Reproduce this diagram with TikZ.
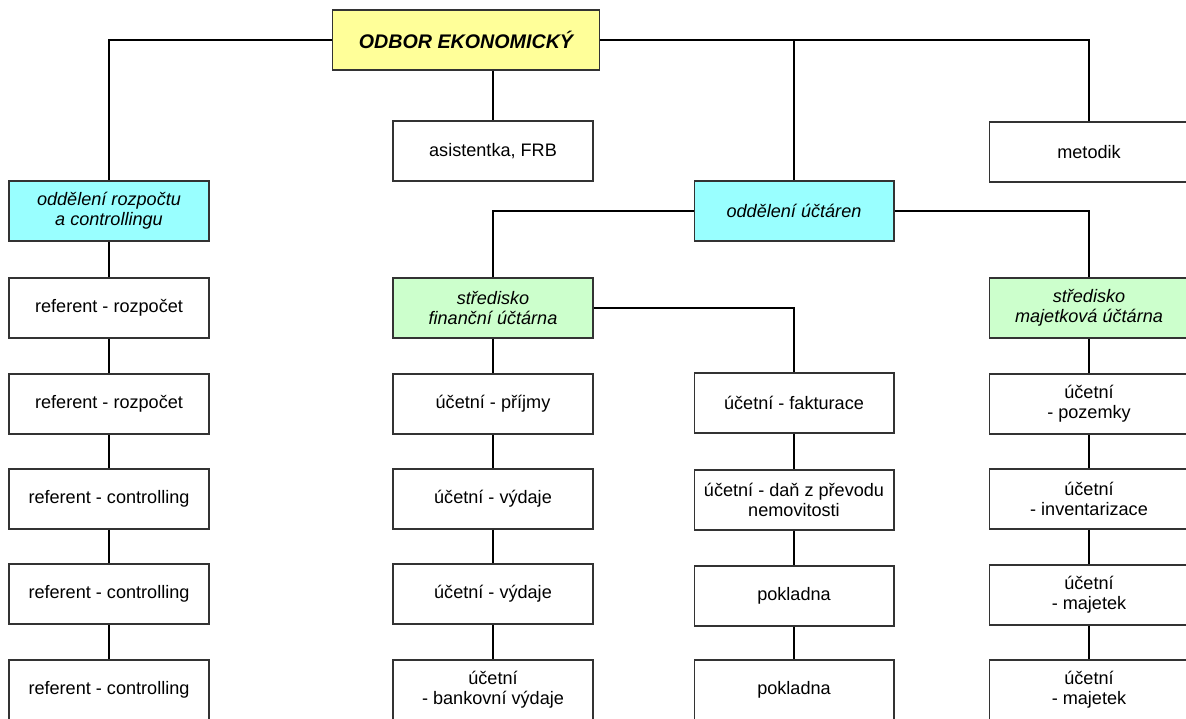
\documentclass[tikz,border=0pt]{standalone}
\usepackage{fontspec}
\setmainfont{Liberation Sans}
\definecolor{headyellow}{RGB}{255,255,153}
\definecolor{deptcyan}{RGB}{153,255,255}
\definecolor{centgreen}{RGB}{204,255,204}
\begin{document}
\begin{tikzpicture}[x=0.02cm,y=-0.02cm,line width=1.5pt,
main node/.style={draw=black!80,line width=0.6pt,fill=white,minimum width=4cm,minimum height=1.2cm,inner sep=1pt,align=center,font=\fontsize{10.3}{11.6}\selectfont},
dept node/.style={main node,fill=deptcyan,font=\fontsize{10.3}{11.6}\selectfont\itshape},
cent node/.style={main node,fill=centgreen,font=\fontsize{10.3}{11.6}\selectfont\itshape},
head node/.style={main node,fill=headyellow,minimum width=5.34cm,font=\fontsize{11.2}{13}\selectfont\bfseries\itshape}]
\path[use as bounding box] (0,0) rectangle (1186,718);
\clip (0,0) rectangle (1186,718);
\node[head node] (odbor) at (466,40) {ODBOR EKONOMICKÝ};
\node[main node] (asist) at (493,151) {asistentka, FRB};
\node[main node] (metod) at (1089,152) {metodik};
\node[dept node] (rozp) at (109,211) {oddělení rozpočtu\\a controllingu};
\node[dept node] (uctar) at (794,211) {oddělení účtáren};
\node[cent node] (fin) at (493,308) {středisko\\finanční účtárna};
\node[cent node] (maj) at (1089,308) {středisko\\majetková účtárna};

\node[main node] (r1) at (109,308) {referent - rozpočet};
\node[main node] (r2) at (109,404) {referent - rozpočet};
\node[main node] (r3) at (109,499) {referent - controlling};
\node[main node] (r4) at (109,594) {referent - controlling};
\node[main node] (r5) at (109,690) {referent - controlling};

\node[main node] (f1) at (493,404) {účetní - příjmy};
\node[main node] (f2) at (493,499) {účetní - výdaje};
\node[main node] (f3) at (493,594) {účetní - výdaje};
\node[main node] (f4) at (493,690) {účetní\\- bankovní výdaje};

\node[main node] (p1) at (794,403) {účetní - fakturace};
\node[main node] (p2) at (794,500) {účetní - daň z převodu\\nemovitosti};
\node[main node] (p3) at (794,596) {pokladna};
\node[main node] (p4) at (794,690) {pokladna};

\node[main node] (m1) at (1089,404) {účetní\\- pozemky};
\node[main node] (m2) at (1089,499) {účetní\\- inventarizace};
\node[main node] (m3) at (1089,595) {účetní\\- majetek};
\node[main node] (m4) at (1089,690) {účetní\\- majetek};

\draw [-] (odbor.west) -| (rozp.north);
\draw [-] (odbor.east) -| (metod.north);
\draw [-] (odbor.south -| asist.north) -- (asist.north);
\draw [-] (odbor.east -| uctar.north) -- (uctar.north);
\draw [-] (uctar.west) -| (fin.north);
\draw [-] (uctar.east) -| (maj.north);
\draw [-] (fin.east) -| (p1.north);

\draw [-] (rozp) -- (r1);
\draw [-] (r1) -- (r2);
\draw [-] (r2) -- (r3);
\draw [-] (r3) -- (r4);
\draw [-] (r4) -- (r5);

\draw [-] (fin) -- (f1);
\draw [-] (f1) -- (f2);
\draw [-] (f2) -- (f3);
\draw [-] (f3) -- (f4);

\draw [-] (p1) -- (p2);
\draw [-] (p2) -- (p3);
\draw [-] (p3) -- (p4);

\draw [-] (maj) -- (m1);
\draw [-] (m1) -- (m2);
\draw [-] (m2) -- (m3);
\draw [-] (m3) -- (m4);

\end{tikzpicture}
\end{document}
